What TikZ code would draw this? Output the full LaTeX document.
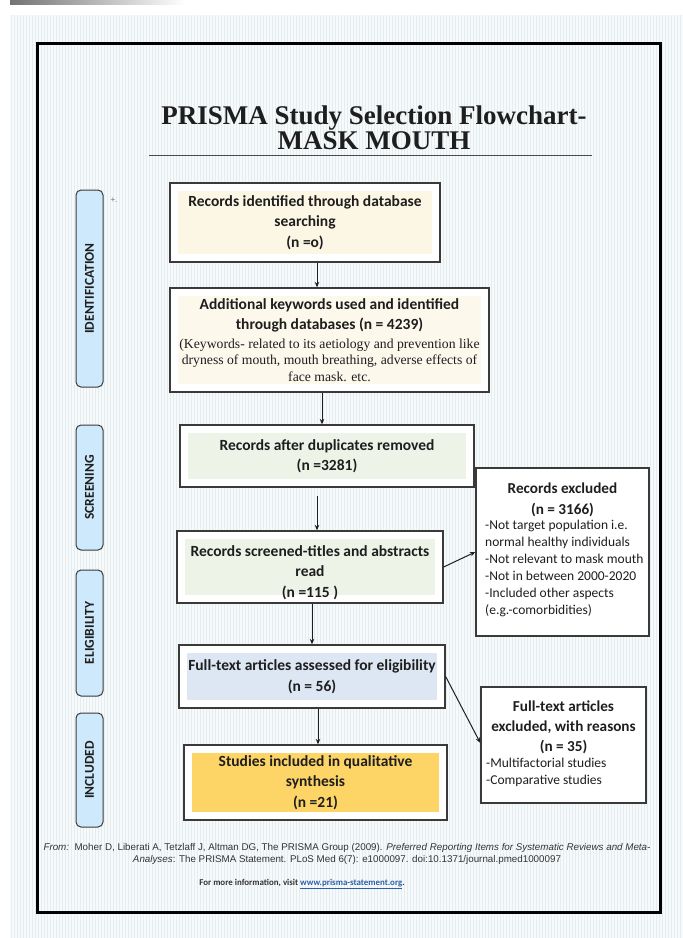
\documentclass[tikz,border=0pt]{standalone}
\usepackage{fontspec}
\setmainfont{Carlito}
\newfontfamily\tnr{Liberation Serif}
\newfontfamily\ari{Liberation Sans}
\usetikzlibrary{arrows.meta}
\definecolor{bgbase}{HTML}{F7FAFB}
\definecolor{stripe}{HTML}{E6EDF0}
\definecolor{bord}{HTML}{3A3A3A}
\definecolor{cream}{HTML}{FCF6E5}
\definecolor{creamb}{HTML}{FDF8EC}
\definecolor{greenf}{HTML}{EEF3E7}
\definecolor{bluef}{HTML}{DCE7F3}
\definecolor{yellowf}{HTML}{FDD466}
\definecolor{sidef}{HTML}{CDE9FB}
\definecolor{linkc}{HTML}{2E5EA8}
\definecolor{txt}{HTML}{1E1E1E}
\tikzset{
  flowbox/.style={draw=bord, line width=1.3pt, fill=white, inner sep=0pt, align=center, text=txt,
    font=\bfseries\fontsize{15.5}{20.5}\selectfont},
  inset/.style={path picture={\fill[#1] ([shift={(8pt,-8pt)}]path picture bounding box.north west) rectangle ([shift={(-8pt,8pt)}]path picture bounding box.south east);}},
  sidebox/.style={draw=bord, line width=1pt, fill=sidef, rounded corners=5pt, minimum width=27pt, inner sep=0pt,
    font=\bfseries\fontsize{13.5}{14}\selectfont, text=txt},
  arr/.style={draw=txt, line width=1pt, -{Stealth[length=5.5pt,width=4.5pt]}},
}
\begin{document}
\begin{tikzpicture}[x=1pt,y=-1pt]
\useasboundingbox (0,0) rectangle (683,938);
% background
\fill[white] (0,0) rectangle (683,938);
\shade[left color=black!55, right color=white] (10,0) rectangle (185,4);
\fill[bgbase] (10,15) rectangle (683,938);
\foreach \x in {11,14,...,683} \draw[stripe, line width=1pt] (\x,15) -- (\x,938);
% frame
\draw[black, line width=3pt] (37,43) rectangle (660,912);
% title
\node[font=\tnr\bfseries\fontsize{27}{25}\selectfont, align=center, text=txt] (title) at (374,128)
  {PRISMA Study Selection Flowchart-\\MASK MOUTH};
\draw[black!70, line width=0.9pt] (149,155) -- (592,155);
% side labels
\node[sidebox, minimum height=197pt] (s1) at (89.5,288.5) {\rotatebox{90}{IDENTIFICATION}};
\node[sidebox, minimum height=125pt] (s2) at (89.5,487.5) {\rotatebox{90}{SCREENING}};
\node[sidebox, minimum height=126pt] (s3) at (89.5,633) {\rotatebox{90}{ELIGIBILITY}};
\node[sidebox, minimum height=114pt] (s4) at (89.5,770) {\rotatebox{90}{INCLUDED}};
\node[font=\ari\fontsize{8}{9}\selectfont, text=black!55] (plus) at (114,200) {+.};
% boxes
\node[flowbox, inset=cream, minimum width=270pt, minimum height=79pt] (b1) at (305,222.5)
  {Records identified through database\\searching\\(n =o)};
\node[flowbox, inset=creamb, minimum width=319pt, minimum height=104pt] (b2) at (329.5,340)
  {Additional keywords used and identified\\through databases (n = 4239)\\[-2pt]
   {\tnr\mdseries\fontsize{13.7}{17}\selectfont (Keywords- related to its aetiology and prevention like}\\[-4pt]
   {\tnr\mdseries\fontsize{13.7}{17}\selectfont dryness of mouth, mouth breathing, adverse effects of}\\[-4pt]
   {\tnr\mdseries\fontsize{13.7}{17}\selectfont face mask. etc.}};
\node[flowbox, inset=greenf, minimum width=294pt, minimum height=62pt] (b3) at (327,456)
  {Records after duplicates removed\\(n =3281)};
\node[flowbox, inset=greenf, minimum width=266pt, minimum height=72pt] (b4) at (310,567)
  {\rule{0pt}{22pt}Records screened-titles and abstracts\\read\\(n =115 )};
\node[flowbox, inset=bluef, minimum width=266pt, minimum height=63pt] (b5) at (312,676.5)
  {Full-text articles assessed for eligibility\\(n = 56)};
\node[flowbox, inset=yellowf, minimum width=263pt, minimum height=75pt] (b6) at (315.5,782.5)
  {Studies included in qualitative\\synthesis\\(n =21)};
\node[flowbox, minimum width=173pt, minimum height=168pt] (b7) at (562.5,552) {};
\node[font=\bfseries\fontsize{15.2}{21}\selectfont, align=center, text=txt] (b7h) at (562.5,499.5)
  {Records excluded\\(n = 3166)};
\node[font=\fontsize{13.5}{17}\selectfont, align=left, anchor=north west, inner sep=0pt, text=txt] (b7l) at (485,520)
  {-Not target population i.e.\\normal healthy individuals\\-Not relevant to mask mouth\\-Not in between 2000-2020\\-Included other aspects\\(e.g.-comorbidities)};
\node[flowbox, minimum width=165pt, minimum height=116pt] (b8) at (563.5,745) {};
\node[font=\bfseries\fontsize{15.2}{20}\selectfont, align=center, text=txt] (b8h) at (563.5,727)
  {Full-text articles\\excluded, with reasons\\(n = 35)};
\node[font=\fontsize{13.5}{17}\selectfont, align=left, anchor=north west, inner sep=0pt, text=txt] (b8l) at (486,758)
  {-Multifactorial studies\\-Comparative studies};
% arrows
\draw[arr] ([xshift=12pt]b1.south) -- ([xshift=12pt]b1.south |- b2.north);
\draw[arr] ([xshift=-7.5pt]b2.south) -- ([xshift=-7.5pt]b2.south |- b3.north);
\draw[arr] ([xshift=-10pt,yshift=-8pt]b3.south) -- ([xshift=-10pt]b3.south |- b4.north);
\draw[arr] ([xshift=2pt]b4.south) -- ([xshift=2pt]b4.south |- b5.north);
\draw[arr] ([xshift=6pt]b5.south) -- ([xshift=6pt]b5.south |- b6.north);
\draw[arr] (b4.east) -- (b7.west);
\draw[arr] (b5.east) -- ([yshift=2pt]b8.west);
% footer
\node[font=\ari\fontsize{9.8}{12}\selectfont, align=center, text=black!80] (cite) at (347,854)
  {\textit{From:}\ \ Moher D, Liberati A, Tetzlaff J, Altman DG, The PRISMA Group (2009). \textit{Preferred Reporting Items for Systematic Reviews and Meta-}\\
   \textit{Analyses}: The PRISMA Statement. PLoS Med 6(7): e1000097. doi:10.1371/journal.pmed1000097};
\node[font=\bfseries\fontsize{8.9}{11}\selectfont, text=black!80] (more) at (302,884)
  {For more information, visit {\color{linkc}\underline{www.prisma-statement.org}}.};
\end{tikzpicture}
\end{document}
